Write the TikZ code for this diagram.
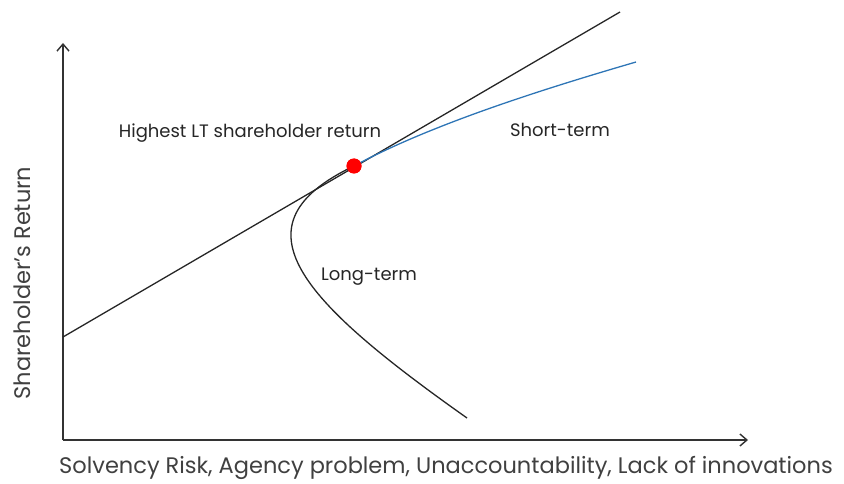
\documentclass[tikz,border=0pt]{standalone}
\usepackage{fontspec}
\usepackage{xcolor}
\usetikzlibrary{arrows.meta}
\setmainfont{Poppins}
\definecolor{shortblue}{HTML}{2E75B6}
\definecolor{optimumred}{HTML}{FF0000}

\begin{document}
\begin{tikzpicture}[
    x=1pt, y=-1pt,
    axis/.style={-{Straight Barb[length=7pt,width=12pt,line width=1.4pt]}, line width=1.2pt, black!80},
    curve/.style={line width=1.3pt, black!85},
    label/.style={font=\fontsize{18}{20}\selectfont, text=black!85},
    axislabel/.style={font=\fontsize{22.5}{25}\selectfont, text=black!75},
    optimum/.style={circle, fill=optimumred, inner sep=0pt, minimum width=13pt, minimum height=15pt}
]
\useasboundingbox (0,0) rectangle (844,484);
\coordinate (origin) at (63,440);
\coordinate (ytop) at (63,43);
\coordinate (xend) at (748,440);
\coordinate (lstart) at (63,337);
\coordinate (lend) at (620,12);
\coordinate (stend) at (636,62);
\coordinate (ltend) at (467,418);
\node[optimum] (peak) at (354,166) {};
\draw[axis] (origin) -- (ytop);
\draw[axis] (origin) -- (xend);
\draw[curve] (lstart) -- (lend);
\draw[curve] (peak.center) .. controls (230,225) and (300,300) .. (ltend);
\draw[curve, shortblue] (peak.center) .. controls (430,125) and (540,90) .. (stend);
\node[optimum] at (peak) {};
\node[label] (highest) at (250,133) {Highest LT shareholder return};
\node[label] (short) at (560,130) {Short-term};
\node[label] (long) at (369,277) {Long-term};
\node[axislabel, rotate=90] (ylabel) at (22,283) {Shareholder's Return};
\node[axislabel] (xlabel) at (446,468) {Solvency Risk, Agency problem, Unaccountability, Lack of innovations};
\end{tikzpicture}
\end{document}
